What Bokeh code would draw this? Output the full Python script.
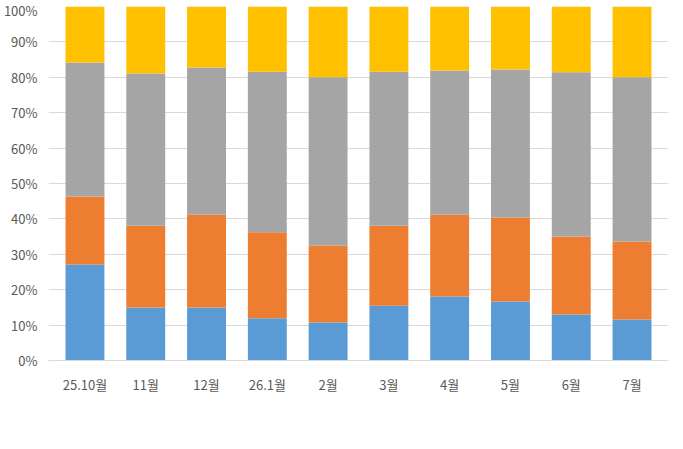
from bokeh.plotting import figure
from bokeh.models import FactorRange, Legend, FixedTicker, Range1d, CustomJSTickFormatter
from bokeh.embed import file_html
from bokeh.resources import INLINE

months = ["25.10월","11월","12월","26.1월","2월","3월","4월","5월","6월","7월"]
gangnam = [27.1,15.0,15.0,11.9,10.7,15.5,18.1,16.7,13.0,11.6]
hangang = [19.2,23.1,26.2,24.3,21.8,22.6,23.1,23.7,22.0,22.0]
gangbuk = [37.9,43.0,41.6,45.4,47.5,43.5,40.7,41.8,46.4,46.4]
seonam = [round(100-a-b-c,1) for a,b,c in zip(gangnam,hangang,gangbuk)]
names = ["강남3구 및 용산구","한강벨트 7개구","강북권 10개구","서남권 4개구"]
colors = ["#5B9BD5","#ED7D31","#A5A5A5","#FFC000"]

data = {"m": months, "a": gangnam, "b": hangang, "c": gangbuk, "d": seonam}
p = figure(x_range=FactorRange(*months, range_padding=0.02), y_range=Range1d(0,100),
           frame_width=620, frame_height=354,
           output_backend="svg", toolbar_location=None, min_border_left=45,
           min_border_right=6, min_border_top=6, min_border_bottom=0)
rs = p.vbar_stack(["a","b","c","d"], x="m", width=0.64, color=colors, source=data, line_color=None)
p.yaxis.ticker = FixedTicker(ticks=list(range(0,101,10)))
p.yaxis.formatter = CustomJSTickFormatter(code="return tick + '%'")
for ax in (p.xaxis, p.yaxis):
    ax.major_label_text_font = "Noto Sans CJK KR"
    ax.major_label_text_font_size = "13px"
    ax.major_label_text_color = "#595959"
    ax.major_tick_line_color = None
    ax.minor_tick_line_color = None
p.xaxis.major_label_standoff = 8
p.yaxis.axis_line_color = None
p.xaxis.axis_line_color = "#D9D9D9"
p.xgrid.grid_line_color = None
p.ygrid.grid_line_color = "#D9D9D9"
p.outline_line_color = None
leg = Legend(items=[(n,[r]) for n,r in zip(names,rs)], orientation="horizontal",
             location="center", border_line_color=None, label_text_font_size="14px",
             label_text_font="Noto Sans CJK KR", label_text_color="#595959",
             glyph_width=10, glyph_height=10, spacing=22, margin=8)
p.add_layout(leg, "below")
open("out.html","w").write(file_html(p, INLINE))
